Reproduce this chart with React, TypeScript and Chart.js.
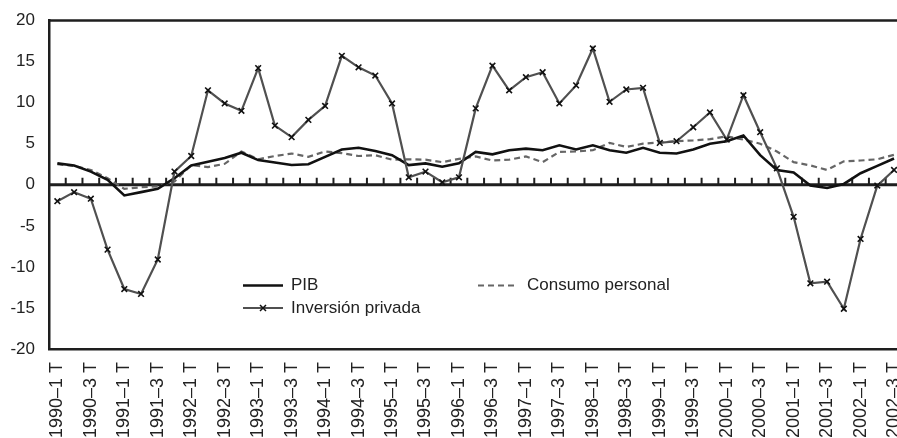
import React, { useEffect, useRef } from "react";
import { Chart, registerables } from "chart.js";

Chart.register(...registerables);

const quarters = [
  "1990–1 T", "1990–2 T", "1990–3 T", "1990–4 T",
  "1991–1 T", "1991–2 T", "1991–3 T", "1991–4 T",
  "1992–1 T", "1992–2 T", "1992–3 T", "1992–4 T",
  "1993–1 T", "1993–2 T", "1993–3 T", "1993–4 T",
  "1994–1 T", "1994–2 T", "1994–3 T", "1994–4 T",
  "1995–1 T", "1995–2 T", "1995–3 T", "1995–4 T",
  "1996–1 T", "1996–2 T", "1996–3 T", "1996–4 T",
  "1997–1 T", "1997–2 T", "1997–3 T", "1997–4 T",
  "1998–1 T", "1998–2 T", "1998–3 T", "1998–4 T",
  "1999–1 T", "1999–2 T", "1999–3 T", "1999–4 T",
  "2000–1 T", "2000–2 T", "2000–3 T", "2000–4 T",
  "2001–1 T", "2001–2 T", "2001–3 T", "2001–4 T",
  "2002–1 T", "2002–2 T", "2002–3 T",
];

const pib = [
  2.6, 2.35, 1.6, 0.6, -1.3, -0.9, -0.5, 0.8, 2.35, 2.8,
  3.25, 3.9, 3.0, 2.7, 2.4, 2.5, 3.4, 4.3, 4.5, 4.1,
  3.6, 2.4, 2.6, 2.2, 2.6, 4.0, 3.7, 4.2, 4.4, 4.2,
  4.8, 4.3, 4.8, 4.2, 3.9, 4.5, 3.9, 3.8, 4.3, 5.0,
  5.3, 6.0, 3.6, 1.8, 1.5, -0.1, -0.4, 0.1, 1.4, 2.3,
  3.2,
];

const inversion = [
  -2.0, -0.9, -1.7, -7.9, -12.7, -13.3, -9.1, 1.6, 3.5, 11.5,
  9.9, 9.0, 14.2, 7.2, 5.8, 7.9, 9.6, 15.7, 14.3, 13.3,
  9.9, 0.9, 1.6, 0.3, 0.9, 9.3, 14.5, 11.5, 13.1, 13.7,
  9.9, 12.1, 16.6, 10.1, 11.6, 11.8, 5.1, 5.3, 7.0, 8.8,
  5.5, 10.9, 6.4, 2.0, -3.9, -12.0, -11.8, -15.1, -6.6, -0.1,
  1.8,
];

const consumo = [
  2.5, 2.3, 1.8, 0.8, -0.5, -0.3, -0.2, 0.4, 2.4, 2.15,
  2.55, 4.05, 3.1, 3.5, 3.8, 3.4, 4.05, 3.85, 3.5, 3.6,
  3.05, 3.1, 3.05, 2.75, 3.15, 3.45, 2.95, 3.05, 3.45, 2.75,
  4.0, 4.05, 4.2, 5.1, 4.6, 5.0, 5.15, 5.3, 5.4, 5.55,
  5.9, 5.5, 5.0, 4.05, 2.75, 2.35, 1.8, 2.85, 2.95, 3.1,
  3.65,
];

const seriesNames = ["PIB", "Inversión privada", "Consumo personal"];

const FONT = "'Liberation Sans', Arial, sans-serif";
const AXIS_COLOR = "#1e1e1e";
const TEXT_COLOR = "#222";
const PIB_COLOR = "#111";
const INV_COLOR = "#505050";
const CONS_COLOR = "#666";

const framePlugin = {
  id: "frameAndLegend",
  beforeDatasetsDraw(chart: any) {
    const { ctx, chartArea, scales } = chart;
    const x = scales.x;
    const y = scales.y;
    ctx.save();
    ctx.strokeStyle = AXIS_COLOR;
    ctx.lineWidth = 2.5;
    ctx.beginPath();
    ctx.moveTo(chartArea.left, chartArea.top);
    ctx.lineTo(chartArea.right, chartArea.top);
    ctx.stroke();
    const y0 = y.getPixelForValue(0);
    ctx.lineWidth = 3;
    ctx.beginPath();
    ctx.moveTo(chartArea.left, y0);
    ctx.lineTo(chartArea.right, y0);
    ctx.stroke();
    ctx.lineWidth = 2;
    for (let i = 1; i < quarters.length; i++) {
      const px = (x.getPixelForValue(i - 1) + x.getPixelForValue(i)) / 2;
      ctx.beginPath();
      ctx.moveTo(px, y0);
      ctx.lineTo(px, y0 - 7);
      ctx.stroke();
    }
    ctx.restore();
  },
  afterDraw(chart: any) {
    const { ctx } = chart;
    ctx.save();
    ctx.font = `17px ${FONT}`;
    ctx.fillStyle = TEXT_COLOR;
    ctx.textBaseline = "middle";
    ctx.textAlign = "left";
    ctx.strokeStyle = PIB_COLOR;
    ctx.lineWidth = 2.5;
    ctx.beginPath();
    ctx.moveTo(243, 285.5);
    ctx.lineTo(283, 285.5);
    ctx.stroke();
    ctx.fillText(seriesNames[0], 291, 285.5);
    ctx.strokeStyle = INV_COLOR;
    ctx.lineWidth = 2;
    ctx.beginPath();
    ctx.moveTo(243, 308);
    ctx.lineTo(283, 308);
    ctx.stroke();
    ctx.strokeStyle = "#111";
    ctx.lineWidth = 1.5;
    ctx.beginPath();
    ctx.moveTo(260, 305);
    ctx.lineTo(266, 311);
    ctx.moveTo(266, 305);
    ctx.lineTo(260, 311);
    ctx.stroke();
    ctx.fillText(seriesNames[1], 291, 308);
    ctx.strokeStyle = CONS_COLOR;
    ctx.lineWidth = 2;
    ctx.setLineDash([6, 4]);
    ctx.beginPath();
    ctx.moveTo(478, 285.5);
    ctx.lineTo(514, 285.5);
    ctx.stroke();
    ctx.setLineDash([]);
    ctx.fillText(seriesNames[2], 527, 285.5);
    ctx.restore();
  },
};

export default function App() {
  const canvasRef = useRef<HTMLCanvasElement | null>(null);

  useEffect(() => {
    const canvas = canvasRef.current;
    if (!canvas) return;
    Chart.defaults.font.family = FONT;
    const chart = new Chart(canvas, {
      type: "line",
      data: {
        labels: quarters,
        datasets: [
          {
            label: seriesNames[1],
            data: inversion,
            borderColor: INV_COLOR,
            borderWidth: 2.2,
            pointStyle: "crossRot",
            pointRadius: 4,
            pointBorderColor: "#111",
            pointBorderWidth: 1.6,
            pointBackgroundColor: "#111",
            tension: 0,
          },
          {
            label: seriesNames[0],
            data: pib,
            borderColor: PIB_COLOR,
            borderWidth: 2.6,
            pointRadius: 0,
            tension: 0,
          },
          {
            label: seriesNames[2],
            data: consumo,
            borderColor: CONS_COLOR,
            borderWidth: 2.2,
            borderDash: [6, 4],
            pointRadius: 0,
            tension: 0,
          },
        ],
      },
      options: {
        animation: false,
        responsive: false,
        maintainAspectRatio: false,
        layout: { padding: { top: 20.5, left: 0, right: 0, bottom: 0 } },
        plugins: {
          legend: { display: false },
          tooltip: { enabled: false },
        },
        scales: {
          x: {
            type: "category",
            offset: true,
            grid: { display: false, drawTicks: false },
            border: { display: true, color: AXIS_COLOR, width: 2.5 },
            ticks: {
              autoSkip: false,
              maxRotation: 90,
              minRotation: 90,
              padding: 13,
              color: TEXT_COLOR,
              font: { size: 18, family: FONT },
              callback: (_v: any, i: number) => (i % 2 === 0 ? quarters[i] : ""),
            },
            afterFit: (scale: any) => {
              scale.height = 89;
              scale.paddingLeft = 0;
              scale.paddingRight = 0;
            },
          },
          y: {
            min: -20,
            max: 20,
            grid: { display: false, drawTicks: false },
            border: { display: true, color: AXIS_COLOR, width: 2.5 },
            ticks: {
              stepSize: 5,
              padding: 14,
              color: TEXT_COLOR,
              font: { size: 17, family: FONT },
            },
            afterFit: (scale: any) => {
              scale.width = 49;
              scale.paddingTop = 0;
              scale.paddingBottom = 0;
            },
          },
        },
      },
      plugins: [framePlugin],
    });
    return () => chart.destroy();
  }, []);

  return (
    <div
      style={{
        position: "fixed",
        left: 0,
        top: 0,
        width: 897,
        height: 438,
        overflow: "hidden",
        background: "#fff",
      }}
    >
      <canvas ref={canvasRef} width={908} height={438} style={{ width: 908, height: 438, display: "block" }} />
    </div>
  );
}
